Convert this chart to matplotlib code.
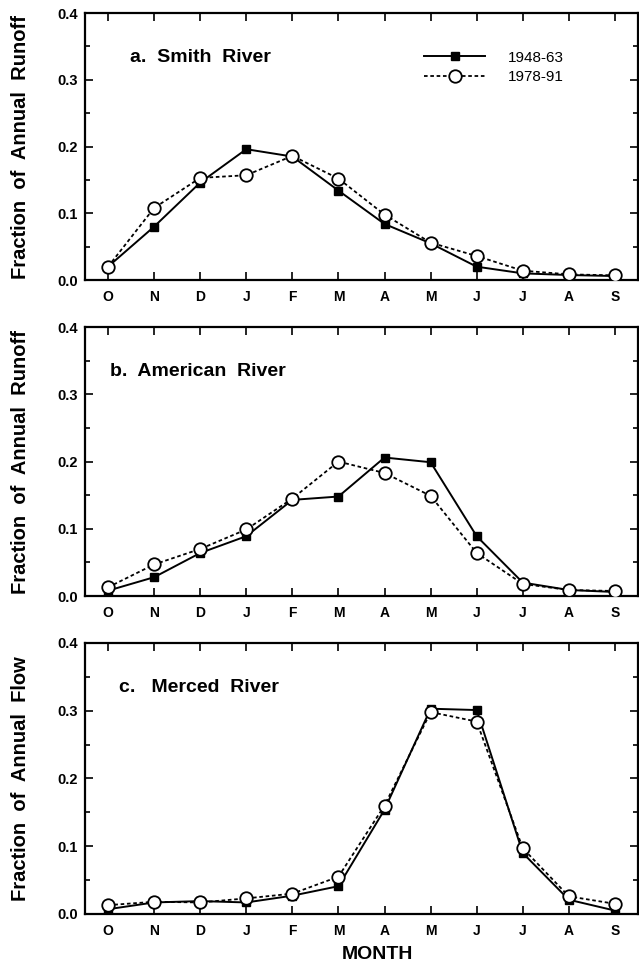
import numpy as np
import matplotlib
matplotlib.use("Agg")
import matplotlib.pyplot as plt
from matplotlib.ticker import MultipleLocator

plt.rcParams['font.family'] = ['Liberation Sans', 'DejaVu Sans']

months = ['O', 'N', 'D', 'J', 'F', 'M', 'A', 'M', 'J', 'J', 'A', 'S']
labels = ['1948-63', '1978-91']

# a. Smith River
smith_early = [0.020, 0.080, 0.146, 0.196, 0.185, 0.134, 0.084, 0.055, 0.020, 0.010, 0.0075, 0.006]
smith_late = [0.020, 0.108, 0.153, 0.157, 0.186, 0.152, 0.098, 0.056, 0.036, 0.014, 0.0085, 0.007]

# b. American River
american_early = [0.008, 0.028, 0.064, 0.089, 0.143, 0.148, 0.206, 0.199, 0.089, 0.020, 0.009, 0.006]
american_late = [0.013, 0.047, 0.070, 0.099, 0.145, 0.200, 0.183, 0.149, 0.064, 0.018, 0.009, 0.0075]

# c. Merced River
merced_early = [0.007, 0.017, 0.019, 0.017, 0.027, 0.041, 0.154, 0.303, 0.301, 0.090, 0.021, 0.005]
merced_late = [0.013, 0.018, 0.017, 0.023, 0.030, 0.055, 0.160, 0.298, 0.284, 0.097, 0.026, 0.015]

panels = [
    ('a.  Smith  River', 'Fraction  of  Annual  Runoff', smith_early, smith_late, 0.48),
    ('b.  American  River', 'Fraction  of  Annual  Runoff', american_early, american_late, 0.04),
    ('c.   Merced  River', 'Fraction  of  Annual  Flow', merced_early, merced_late, 0.24),
]

fig = plt.figure(figsize=(6.39, 9.64), dpi=100)
boxes = [[0.133, 0.7095, 0.8654, 0.277],
         [0.133, 0.3817, 0.8654, 0.279],
         [0.133, 0.0519, 0.8654, 0.2811]]

x = np.arange(len(months))
for i, (title, ylab, early, late, tx) in enumerate(panels):
    ax = fig.add_axes(boxes[i])
    ax.plot(x, early, color='black', lw=1.4, marker='s', ms=5.5,
            mfc='black', mec='black', label=labels[0], zorder=3)
    ax.plot(x, late, color='black', lw=1.3, ls=(0, (2, 1.5)), marker='o', ms=9,
            mfc='white', mec='black', mew=1.3, label=labels[1], zorder=4)
    ax.set_xlim(-0.5, 11.5)
    ax.set_ylim(0, 0.4)
    ax.set_xticks(x)
    ax.set_xticklabels(months)
    ax.yaxis.set_major_locator(MultipleLocator(0.1))
    ax.yaxis.set_minor_locator(MultipleLocator(0.05))
    ax.yaxis.set_major_formatter(plt.FuncFormatter(lambda v, p: '%.1f' % v))
    ax.tick_params(which='both', direction='in', top=True, right=True, width=1.2)
    ax.tick_params(which='major', length=6)
    ax.tick_params(which='minor', length=3.5)
    ax.tick_params(axis='x', which='minor', top=False, bottom=False)
    ax.tick_params(axis='x', pad=7.5, labelsize=10)
    ax.tick_params(axis='y', pad=5, labelsize=10.5)
    for lab in ax.get_xticklabels() + ax.get_yticklabels():
        lab.set_fontweight('bold')
    for sp in ax.spines.values():
        sp.set_linewidth(1.6)
    ax.text(tx, 0.334, title, fontsize=14, fontweight='bold', va='center', ha='left')
    y0 = boxes[i][1] + boxes[i][3] / 2
    fig.text(21 / 639, y0, ylab, rotation=90, ha='center', va='center',
             fontsize=14.5, fontweight='bold')
    if i == 0:
        ax.legend(loc='center left', bbox_to_anchor=(0.613, 0.796), frameon=False,
                  fontsize=11, handlelength=4.0, handletextpad=1.5,
                  labelspacing=0.35, borderpad=0, borderaxespad=0)

fig.text(377 / 639, 0.0095, 'MONTH', ha='center', va='center',
         fontsize=14, fontweight='bold')

fig.savefig('out.png', dpi=100)
